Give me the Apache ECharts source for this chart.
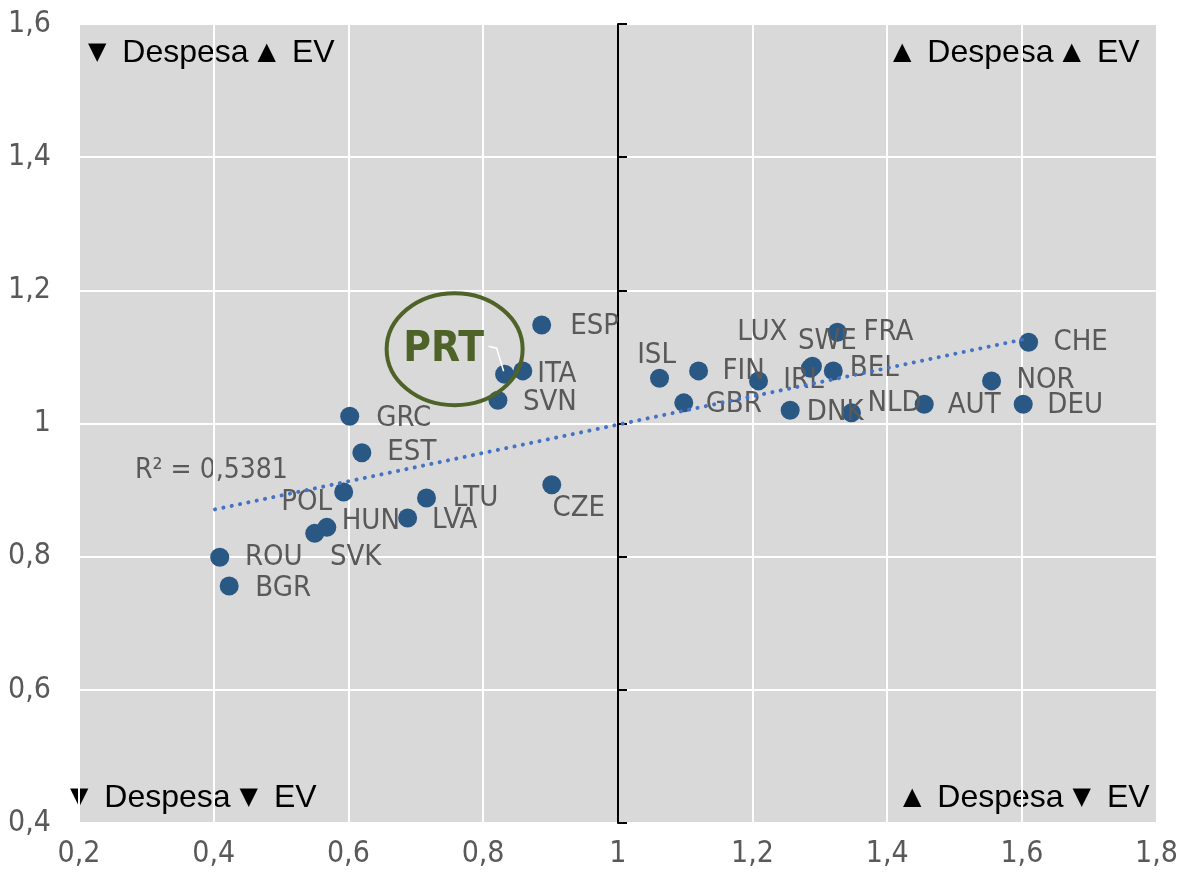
<!DOCTYPE html>
<html>
<head>
<meta charset="utf-8">
<script src="https://cdn.jsdelivr.net/npm/echarts@6/dist/echarts.min.js"></script>
<style>
  html, body { margin: 0; padding: 0; background: #fff; }
  #main { width: 1181px; height: 881px; }
</style>
</head>
<body>
<div id="main"></div>
<script>
// pontos: despesa (x) vs esperança de vida (y), em relação à média
var countries = ['ESP', 'PRT', 'ITA', 'SVN', 'GRC', 'EST', 'POL', 'HUN', 'SVK', 'LVA', 'LTU', 'CZE', 'ROU', 'BGR',
  'ISL', 'FIN', 'GBR', 'IRL', 'LUX', 'SWE', 'FRA', 'BEL', 'DNK', 'NLD', 'AUT', 'NOR', 'DEU', 'CHE'];
var despesa = [0.887, 0.832, 0.859, 0.822, 0.602, 0.620, 0.593, 0.568, 0.550, 0.688, 0.716, 0.902, 0.409, 0.423,
  1.062, 1.120, 1.098, 1.209, 1.286, 1.289, 1.326, 1.320, 1.256, 1.347, 1.455, 1.555, 1.602, 1.610];
var ev = [1.148, 1.074, 1.079, 1.035, 1.011, 0.956, 0.897, 0.844, 0.835, 0.858, 0.888, 0.908, 0.799, 0.756,
  1.068, 1.079, 1.031, 1.064, 1.083, 1.086, 1.137, 1.079, 1.020, 1.016, 1.029, 1.064, 1.029, 1.122];

// linha de tendência (extremos)
var trendX = [0.402, 1.610];
var trendY = [0.871, 1.128];

var xMin = 0.2, xMax = 1.8, yMin = 0.4, yMax = 1.6, step = 0.2;
var r2Text = 'R² = 0,5381';

// deslocamento dos rótulos (px, centro do texto em relação ao ponto)
var labelShift = {
  ESP: [53, 2], ITA: [34, 4], SVN: [52, 2], GRC: [54, 2], EST: [50, 0], POL: [-37, 10],
  HUN: [44, -6], SVK: [41, 24], LVA: [47, 2], LTU: [49, 0], CZE: [27, 24], ROU: [54, 0],
  BGR: [54, 3], ISL: [-3, -23], FIN: [45, 1], GBR: [50, 2], IRL: [45, 0], LUX: [-48, -36],
  SWE: [15, -25], FRA: [51, 0], BEL: [41, -2], DNK: [45, 2], NLD: [43, -9], AUT: [50, 1],
  NOR: [54, 0], DEU: [52, 1], CHE: [52, 0]
};

var narrow = '"Liberation Sans Narrow", "Arial Narrow", "DejaVu Sans Condensed", sans-serif';
var sans = '"Liberation Sans", Arial, sans-serif';
var grey = '#595959';

function fmt(v) {
  return String(Math.round(v * 10) / 10).replace('.', ',');
}

var points = countries.map(function (c, i) {
  var item = { name: c, value: [despesa[i], ev[i]] };
  var s = labelShift[c];
  if (s) {
    item.label = { offset: s };
  } else {
    item.label = { show: false };
  }
  return item;
});

function quadText(id, left, top, a, b) {
  return {
    type: 'text', id: id, left: left, top: top,
    style: {
      text: '{t|' + a + '} Despesa {t|' + b + '} EV', font: '32px ' + sans, fill: '#000',
      rich: { t: { fontSize: 24, fill: '#000', fontFamily: 'DejaVu Sans', padding: [0, 7, 0, 0] } }
    }
  };
}

var chart = echarts.init(document.getElementById('main'));

var option = {
  animation: false,
  backgroundColor: '#ffffff',
  grid: {
    left: 79, right: 24, top: 24, bottom: 58,
    show: true, backgroundColor: '#d9d9d9', borderWidth: 0
  },
  xAxis: [
    {
      type: 'value', min: xMin, max: xMax, interval: step,
      axisLine: { show: false }, axisTick: { show: false },
      axisLabel: { formatter: fmt, color: grey, fontFamily: narrow, fontSize: 30, margin: 16 },
      splitLine: { show: true, lineStyle: { color: '#ffffff', width: 2 } }
    },
    {
      type: 'value', min: xMin, max: xMax, interval: step, position: 'bottom', offset: 399.6,
      axisLine: { show: true, onZero: false, lineStyle: { color: '#000', width: 2 } },
      axisTick: { show: true, inside: true, length: 9, lineStyle: { color: '#000', width: 2 } },
      axisLabel: { show: false }, splitLine: { show: false }
    }
  ],
  yAxis: [
    {
      type: 'value', min: yMin, max: yMax, interval: step,
      axisLine: { show: false }, axisTick: { show: false },
      axisLabel: { formatter: fmt, color: grey, fontFamily: narrow, fontSize: 30, margin: 28 },
      splitLine: { show: true, lineStyle: { color: '#ffffff', width: 2 } }
    },
    {
      type: 'value', min: yMin, max: yMax, interval: step, position: 'left', offset: -539,
      axisLine: { show: true, onZero: false, lineStyle: { color: '#000', width: 2 } },
      axisTick: { show: true, inside: true, length: 9, lineStyle: { color: '#000', width: 2 } },
      axisLabel: { show: false }, splitLine: { show: false }
    }
  ],
  series: [
    {
      type: 'scatter',
      xAxisIndex: 0, yAxisIndex: 0,
      symbol: 'circle', symbolSize: 19,
      itemStyle: { color: '#2a5885', opacity: 1 },
      label: {
        show: true, position: 'inside', align: 'center', verticalAlign: 'middle',
        formatter: '{b}', color: grey, fontFamily: narrow, fontSize: 29
      },
      emphasis: { disabled: true },
      data: points,
      z: 3
    },
    {
      type: 'line',
      xAxisIndex: 0, yAxisIndex: 0,
      symbol: 'none',
      lineStyle: { color: '#4472c4', width: 4, type: [0.1, 8.4], cap: 'round' },
      data: trendX.map(function (x, i) { return [x, trendY[i]]; }),
      z: 4
    }
  ],
  graphic: [
    quadText('q1', 88, 37, '▼', '▲'),
    quadText('q2', 893, 37, '▲', '▲'),
    quadText('q3', 70, 782, '▼', '▼'),
    quadText('q4', 903, 782, '▲', '▼'),
    {
      type: 'text', id: 'r2', left: 135, top: 457,
      style: { text: r2Text, font: '28px ' + narrow, fill: grey }
    }
  ]
};

chart.setOption(option);

// destaque de Portugal, posicionado a partir do ponto PRT
var iPrt = countries.indexOf('PRT');
var p = chart.convertToPixel({ seriesIndex: 0 }, [despesa[iPrt], ev[iPrt]]);
chart.setOption({
  graphic: [
    {
      type: 'ellipse', id: 'prtRing', shape: { cx: p[0] - 50, cy: p[1] - 25, rx: 68, ry: 56 },
      style: { fill: 'none', stroke: '#4f6228', lineWidth: 4 }, z: 10
    },
    {
      type: 'text', id: 'prtText', x: p[0] - 61, y: p[1] - 24,
      style: { text: 'PRT', font: 'bold 42px ' + narrow, fill: '#4f6228', align: 'center', verticalAlign: 'middle' },
      z: 10
    },
    {
      type: 'polyline', id: 'prtLeader', shape: { points: [[p[0] - 16, p[1] - 28], [p[0] - 8, p[1] - 26], [p[0] - 1, p[1] - 3]] },
      style: { stroke: '#ffffff', lineWidth: 1.5, fill: 'none' }, z: 10
    }
  ]
});
</script>
</body>
</html>
